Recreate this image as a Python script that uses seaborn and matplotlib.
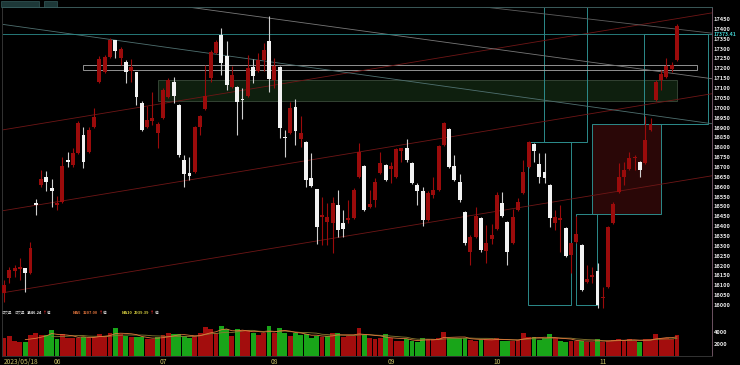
import numpy as np
import pandas as pd
import matplotlib
matplotlib.use("Agg")
import matplotlib.pyplot as plt
from matplotlib.patches import Rectangle
import seaborn as sns

# ---------------- data ----------------
opens = [16061, 16137, 16172, 16182, 16187, 16162, 16517, 16608, 16649, 16593,
         16507, 16522, 16735, 16709, 16770, 16862, 16775, 16902, 17130, 17181,
         17257, 17343, 17252, 17232, 17186, 17181, 17024, 16902, 16933, 16872,
         16948, 17054, 17130, 17014, 16735, 16669, 16674, 16902, 16993, 17151,
         17277, 17369, 17262, 17105, 17105, 17044, 17059, 17206, 17186, 17242,
         17338, 17140, 17206, 16851, 16872, 17004, 16841, 16826, 16644, 16588,
         16446, 16421, 16415, 16507, 16415, 16431, 16441, 16649, 16704, 16497,
         16532, 16669, 16709, 16689, 16649, 16780, 16796, 16720, 16608, 16578,
         16431, 16557, 16583, 16811, 16892, 16704, 16623, 16471, 16268, 16344,
         16441, 16274, 16334, 16385, 16517, 16421, 16314, 16481, 16567, 16699,
         16816, 16715, 16674, 16608, 16415, 16431, 16390, 16253, 16319, 16304,
         16116, 16142, 16172, 16035, 16091, 16415, 16573, 16649, 16689, 16745,
         16725, 16720, 16887, 17039, 17140, 17156, 17196, 17242]
highs = [16126, 16192, 16203, 16238, 16187, 16319, 16537, 16684, 16679, 16638,
         16552, 16750, 16775, 16796, 16933, 16902, 16902, 16998, 17262, 17267,
         17353, 17343, 17308, 17242, 17247, 17181, 17034, 17009, 17080, 16927,
         17100, 17151, 17156, 17019, 16760, 16750, 16907, 16963, 17216, 17293,
         17343, 17404, 17338, 17211, 17110, 17100, 17267, 17247, 17277, 17328,
         17465, 17252, 17211, 16887, 17029, 17044, 16958, 16831, 16770, 16588,
         16547, 16517, 16547, 16583, 16481, 16532, 16593, 16821, 16709, 16583,
         16644, 16775, 16715, 16725, 16796, 16796, 16841, 16725, 16618, 16598,
         16578, 16649, 16811, 16927, 16897, 16760, 16664, 16476, 16355, 16497,
         16446, 16405, 16410, 16573, 16573, 16426, 16486, 16542, 16735, 16831,
         16821, 16770, 16770, 16613, 16481, 16507, 16395, 16314, 16451, 16309,
         16203, 16192, 16213, 16091, 16400, 16522, 16720, 16725, 16775, 16760,
         16730, 16958, 16948, 17140, 17191, 17252, 17232, 17424]
lows = [16015, 16111, 16142, 16126, 16066, 16157, 16456, 16598, 16578, 16497,
        16481, 16517, 16699, 16699, 16765, 16694, 16770, 16897, 17125, 17176,
        17252, 17252, 17216, 17125, 17130, 17014, 16882, 16897, 16912, 16796,
        16943, 17049, 17024, 16750, 16598, 16633, 16669, 16862, 16988, 17130,
        17272, 17166, 17090, 17100, 16862, 16943, 17054, 17125, 17181, 17186,
        17080, 17100, 16846, 16750, 16867, 16811, 16801, 16598, 16598, 16309,
        16304, 16304, 16263, 16344, 16344, 16415, 16436, 16644, 16476, 16492,
        16497, 16664, 16628, 16618, 16644, 16725, 16725, 16613, 16507, 16400,
        16426, 16542, 16578, 16806, 16694, 16628, 16522, 16304, 16203, 16339,
        16268, 16213, 16309, 16380, 16446, 16203, 16309, 16476, 16562, 16694,
        16725, 16618, 16618, 16395, 16380, 16268, 16243, 16162, 16314, 16071,
        16111, 16111, 15985, 15985, 16086, 16410, 16567, 16608, 16684, 16684,
        16649, 16715, 16882, 17034, 17090, 17151, 17181, 17237]
closes = [16101, 16177, 16187, 16192, 16162, 16289, 16507, 16638, 16623, 16578,
          16517, 16704, 16725, 16770, 16922, 16725, 16887, 16953, 17247, 17257,
          17343, 17287, 17298, 17181, 17206, 17054, 16887, 16938, 16948, 16917,
          17090, 17140, 17059, 16760, 16664, 16654, 16902, 16958, 17059, 17282,
          17333, 17227, 17115, 17166, 17029, 17039, 17201, 17161, 17242, 17293,
          17145, 17211, 16897, 16846, 16998, 16882, 16872, 16633, 16603, 16395,
          16456, 16446, 16517, 16380, 16385, 16441, 16583, 16775, 16481, 16512,
          16623, 16720, 16633, 16704, 16791, 16796, 16735, 16618, 16578, 16431,
          16567, 16583, 16806, 16922, 16699, 16633, 16532, 16314, 16344, 16451,
          16279, 16314, 16355, 16557, 16451, 16268, 16446, 16522, 16674, 16826,
          16780, 16649, 16644, 16441, 16446, 16441, 16248, 16314, 16360, 16076,
          16131, 16152, 16000, 16040, 16395, 16512, 16649, 16684, 16745, 16750,
          16684, 16836, 16917, 17130, 17171, 17211, 17216, 17414]
volumes = [2940, 3330, 2560, 2390, 2390, 3500, 3890, 3500, 3500, 4330,
           2830, 3670, 3060, 2940, 3060, 3220, 3060, 3220, 3610, 3390,
           3780, 4610, 3610, 3390, 3110, 3110, 3110, 2780, 2780, 3110,
           3500, 3780, 3610, 3610, 3330, 2940, 3330, 3780, 4780, 4500,
           3780, 5000, 4440, 3330, 4440, 4330, 4330, 3780, 3500, 3890,
           5000, 3890, 4610, 3890, 3330, 3890, 3500, 3670, 2940, 3330,
           3220, 3330, 3890, 3890, 3220, 3330, 3330, 4610, 3500, 2940,
           2780, 2940, 3610, 2940, 2560, 2560, 2780, 2560, 2390, 2940,
           2780, 2780, 2940, 4060, 2940, 2940, 2940, 2940, 2670, 2560,
           2670, 2780, 2780, 2940, 2560, 2560, 2560, 2670, 3780, 3110,
           3110, 2670, 2940, 3670, 2940, 2560, 2390, 2560, 2560, 2560,
           2390, 2390, 2780, 2390, 2560, 2670, 2780, 2670, 2780, 2560,
           2390, 2800, 2800, 3700, 3000, 2950, 2850, 3446]
month_pos = [0, 10, 30, 51, 73, 93, 113]
month_labels = ["2023/05/18", "06", "07", "08", "09", "10", "11"]
price_ticks = list(range(16000, 17451, 50))
vol_ticks = [2000, 4000]
mark_price = 17373.41
vol_last, vol_ma5, vol_ma10 = "3446.24", "3207.00", "2939.39"

# drawing objects (index, price)
channel_lines = [((0, 16889), (127, 17452)),
                 ((0, 16479), (127, 17042)),
                 ((0, 16063), (127, 16626))]
fan_lines = [((0, 17422), (127, 16944)),
             ((34.7, 17511), (128.5, 17166)),
             ((95.5, 17496), (128.5, 17394))]
gray_box = (14.9, 130.8, 17191, 17217)
green_box = (29.1, 127.0, 17034, 17141)
cyan_boxes = [(101.9, 110.0, 16826, 17511),
              (98.9, 107.0, 16000, 16826),
              (107.9, 111.9, 16000, 16461),
              (120.75, 132.8, 16918, 17373.41)]
red_box = (110.9, 124.0, 16461, 16918)

# ---------------- style ----------------
sns.set_style("dark", {"axes.facecolor": "black", "figure.facecolor": "black"})
plt.rcParams['font.family'] = ['Noto Sans CJK TC', 'DejaVu Sans']

RED = '#9b0b0b'
WHITE = '#f2f2f2'
WICKW = '#cfcfcf'
VRED = '#a30d0d'
VGREEN = '#19a519'
TEAL = '#2c8b8b'

W, H = 740, 365
fig = plt.figure(figsize=(7.4, 3.65), dpi=100, facecolor='black')
ax = fig.add_axes([2 / W, (H - 319) / H, 710 / W, 312 / H])
axv = fig.add_axes([2 / W, (H - 356) / H, 710 / W, 37 / H])
for a in (ax, axv):
    a.set_facecolor('black')

df = pd.DataFrame(dict(o=opens, h=highs, l=lows, c=closes, v=volumes))
df['i'] = np.arange(len(df))
up = df.c >= df.o

# overlays
gx0, gx1, gp0, gp1 = green_box
ax.add_patch(Rectangle((gx0, gp0), gx1 - gx0, gp1 - gp0, fc='#0e1f0e', ec='#3a4a3a', lw=0.6, zorder=1))
rx0, rx1, rp0, rp1 = red_box
ax.add_patch(Rectangle((rx0, rp0), rx1 - rx0, rp1 - rp0, fc='#2a0707', ec=TEAL, lw=0.7, zorder=1))
for (x0, x1, p0, p1) in cyan_boxes:
    ax.add_patch(Rectangle((x0, p0), x1 - x0, p1 - p0, fc='none', ec=TEAL, lw=0.7, zorder=2))
bx0, bx1, bp0, bp1 = gray_box
ax.add_patch(Rectangle((bx0, bp0), bx1 - bx0, bp1 - bp0, fc='none', ec='#a8a8a8', lw=0.6, zorder=2))
for p, q in channel_lines:
    ax.axline(p, q, color='#6e1616', lw=0.6, zorder=2)
for k, (p, q) in enumerate(fan_lines):
    ax.axline(p, q, color=['#4f7070', '#777777', '#5e5e5e'][k], lw=0.6, zorder=2)
ax.axhline(mark_price, color=TEAL, lw=0.6, zorder=2)

# candles
ax.vlines(df.i, df.l, df.h, colors=np.where(up, RED, WICKW), lw=0.8, zorder=3)
ax.bar(df.i, np.maximum((df.c - df.o).abs(), 5), bottom=np.minimum(df.o, df.c),
       width=0.74, color=np.where(up, RED, WHITE), lw=0, zorder=4)

ax.set_xlim(-0.377, 133.6)
ax.set_ylim(15929, 17511)
ax.set_xticks([])
ax.yaxis.tick_right()
ax.set_yticks(price_ticks)
ax.tick_params(axis='y', length=0, pad=1.2, labelsize=4.1, labelcolor='#e6e6e6')
for t in ax.get_yticklabels():
    t.set_fontweight('bold')
ax.text(1.0017, mark_price, f"{mark_price:.2f}", transform=ax.get_yaxis_transform(),
        color='#3fc9c9', fontsize=3.7, fontweight='bold', va='center', ha='left')
ax.spines['top'].set_color('#3a5858')
ax.spines['right'].set_color('#6d5262')
ax.spines['left'].set_color('#333333')
ax.spines['bottom'].set_color('#7a5868')
for s in ax.spines.values():
    s.set_linewidth(0.7)

# volume
prev = df.c.shift(1).fillna(df.o)
df['dir'] = np.where(df.c >= prev, 'up', 'down')
df['ma5'] = df.v.rolling(5).mean()
df['ma10'] = df.v.rolling(10).mean()
sns.barplot(data=df, x='i', y='v', hue='dir', palette={'up': VRED, 'down': VGREEN},
            dodge=False, native_scale=True, width=0.92, errorbar=None, saturation=1,
            legend=False, linewidth=0, ax=axv)
sns.lineplot(data=df, x='i', y='ma10', ax=axv, color='#8a7a30', lw=0.6)
sns.lineplot(data=df, x='i', y='ma5', ax=axv, color='#e0783c', lw=0.6)
axv.set_xlim(-0.377, 133.6)
axv.set_ylim(0, 6167)
axv.set_xlabel('')
axv.set_ylabel('')
axv.yaxis.tick_right()
axv.set_yticks(vol_ticks)
axv.tick_params(axis='y', length=0, pad=1.2, labelsize=4.1, labelcolor='#e6e6e6')
for t in axv.get_yticklabels():
    t.set_fontweight('bold')
axv.set_xticks(month_pos)
axv.set_xticklabels(month_labels)
axv.tick_params(axis='x', length=0, pad=1.5, labelsize=4.8, labelcolor='#c8c068')
axv.get_xticklabels()[0].set_ha('left')
axv.spines['top'].set_visible(False)
axv.spines['right'].set_color('#6d5262')
axv.spines['left'].set_color('#333333')
axv.spines['bottom'].set_color('#333333')
for s in axv.spines.values():
    s.set_linewidth(0.7)
axv.grid(False)
ax.grid(False)

# volume header, placed piece by piece
renderer = fig.canvas.get_renderer()
hy = 1 - 313 / H
def seq(px, parts):
    x = px
    for s, c, bold, size, gap in parts:
        t = fig.text(x / W, hy, s, color=c, fontsize=size, va='center', ha='left',
                     fontweight='bold' if bold else 'normal')
        x = t.get_window_extent(renderer).x1 + gap
seq(2, [("成交量", '#b8b8b8', False, 2.5, 2.5), ("成交量", '#b8b8b8', False, 2.5, 1.5),
        (vol_last, '#f0f0f0', True, 2.8, 0.4), ("↑", '#ff2a2a', True, 2.8, 0.4),
        ("億", '#d0d0d0', False, 2.5, 0)])
seq(73, [("MA5", '#e0743c', True, 2.9, 1.5), (vol_ma5, '#e0743c', True, 2.9, 0.4),
         ("↑", '#ff2a2a', True, 2.9, 0.4), ("億", '#d0d0d0', False, 2.6, 0)])
seq(122, [("MA10", '#d8d040', True, 2.9, 1.5), (vol_ma10, '#d8d040', True, 2.9, 0.4),
          ("↑", '#ff2a2a', True, 2.9, 0.4), ("億", '#d0d0d0', False, 2.6, 0)])

# toolbar boxes
fig.add_artist(Rectangle((1 / W, 1 - 6.5 / H), 38 / W, 5.5 / H, transform=fig.transFigure,
                         fc='#1d3838', ec='#3f6a6a', lw=0.4))
fig.add_artist(Rectangle((44 / W, 1 - 6.5 / H), 13 / W, 5.5 / H, transform=fig.transFigure,
                         fc='#1d3838', ec='#3f6a6a', lw=0.4))

fig.savefig("out.png", dpi=100, facecolor='black')
